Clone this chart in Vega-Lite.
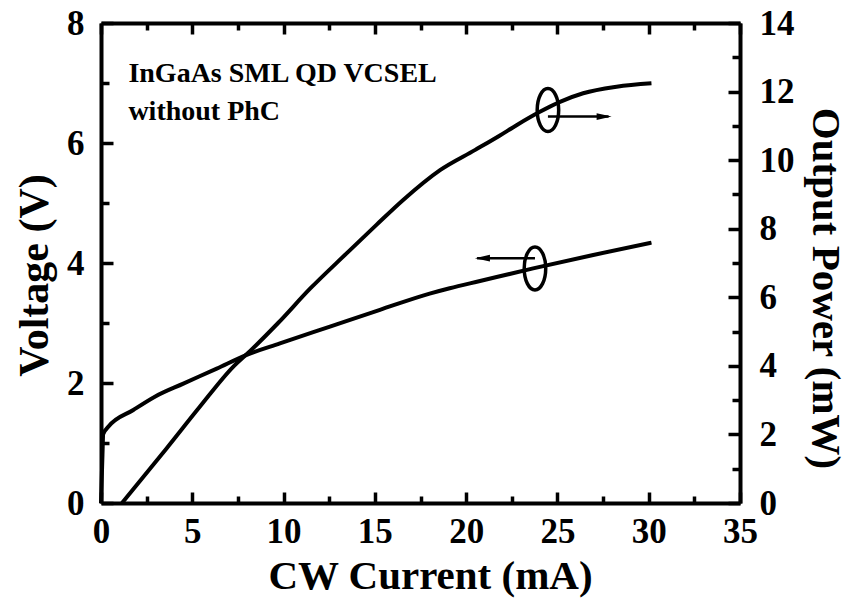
{
  "$schema": "https://vega.github.io/schema/vega-lite/v6.json",
  "width": 639,
  "height": 480,
  "autosize": {"type": "none"},
  "padding": {"left": 101, "top": 23, "right": 110, "bottom": 98},
  "background": "white",
  "config": {
    "view": {"stroke": null},
    "font": "Liberation Serif",
    "axis": {
      "labelFont": "Liberation Serif",
      "labelFontWeight": "bold",
      "labelFontSize": 35,
      "labelColor": "black",
      "titleFont": "Liberation Serif",
      "titleFontWeight": "bold",
      "titleFontSize": 42,
      "titleColor": "black",
      "domainColor": "black",
      "domainWidth": 4,
      "tickColor": "black",
      "tickWidth": 3.5,
      "grid": false,
      "labelFlush": false,
      "labelOverlap": false
    }
  },
  "datasets": {
    "voltage": [
      {"I": 0, "V": 0},
      {"I": 0.08, "V": 0.8},
      {"I": 0.12, "V": 1.15},
      {"I": 0.4, "V": 1.27},
      {"I": 1.77, "V": 1.55},
      {"I": 3.0, "V": 1.78},
      {"I": 4.51, "V": 1.99},
      {"I": 6.34, "V": 2.24},
      {"I": 7.98, "V": 2.47},
      {"I": 9.8, "V": 2.66},
      {"I": 12.54, "V": 2.94},
      {"I": 15.28, "V": 3.22},
      {"I": 18.0, "V": 3.49},
      {"I": 19.1, "V": 3.58},
      {"I": 20.76, "V": 3.7},
      {"I": 23.67, "V": 3.91},
      {"I": 26.9, "V": 4.13},
      {"I": 30.15, "V": 4.34}
    ],
    "power": [
      {"I": 1.15, "P": 0},
      {"I": 3.6, "P": 1.6},
      {"I": 5.4, "P": 2.8},
      {"I": 7.25, "P": 3.98},
      {"I": 8.2, "P": 4.45},
      {"I": 9.7, "P": 5.25},
      {"I": 11.45, "P": 6.25},
      {"I": 13.45, "P": 7.28},
      {"I": 15.1, "P": 8.12},
      {"I": 16.55, "P": 8.84},
      {"I": 18.57, "P": 9.71},
      {"I": 20.5, "P": 10.3},
      {"I": 21.85, "P": 10.72},
      {"I": 22.76, "P": 11.02},
      {"I": 24.04, "P": 11.41},
      {"I": 25.14, "P": 11.7},
      {"I": 26.41, "P": 11.95},
      {"I": 28.24, "P": 12.14},
      {"I": 30.15, "P": 12.24}
    ],
    "vEllipse": [{"I": 23.77, "V": 3.91}],
    "vArrow": [{"I": 20.6, "I2": 23.77, "V": 4.08}],
    "vHead": [{"I": 20.48, "V": 4.08}],
    "pEllipse": [{"I": 24.48, "P": 11.46}],
    "pArrow": [{"I": 24.48, "I2": 27.8, "P": 11.27}],
    "pHead": [{"I": 27.97, "P": 11.27}],
    "notes": [
      {"I": 1.5, "V": 7.02, "label": "InGaAs SML QD VCSEL"},
      {"I": 1.5, "V": 6.38, "label": "without PhC"}
    ]
  },
  "layer": [
    {
      "data": {"name": "voltage"},
      "mark": {"type": "line", "color": "black", "strokeWidth": 4, "interpolate": "monotone"},
      "encoding": {
        "x": {
          "field": "I", "type": "quantitative",
          "scale": {"domain": [0, 35], "nice": false, "zero": false},
          "axis": {
            "orient": "bottom",
            "title": "CW Current (mA)",
            "titleFontSize": 41,
            "titleX": 329,
            "values": [0, 5, 10, 15, 20, 25, 30, 35],
            "tickSize": -11,
            "labelPadding": 22,
            "titlePadding": 7
          }
        },
        "y": {
          "field": "V", "type": "quantitative",
          "scale": {"domain": [0, 8], "nice": false},
          "axis": {
            "orient": "left",
            "title": "Voltage (V)",
            "titleY": 252,
            "values": [0, 2, 4, 6, 8],
            "tickSize": -12,
            "labelPadding": 29,
            "titlePadding": 10
          }
        }
      }
    },
    {
      "data": {"name": "power"},
      "mark": {"type": "line", "color": "black", "strokeWidth": 4, "interpolate": "monotone"},
      "encoding": {
        "x": {
          "field": "I", "type": "quantitative",
          "axis": {
            "orient": "top",
            "title": null,
            "labels": false,
            "values": [0, 5, 10, 15, 20, 25, 30, 35],
            "tickSize": -11
          }
        },
        "y": {
          "field": "P", "type": "quantitative",
          "scale": {"domain": [0, 14], "nice": false},
          "axis": {
            "orient": "right",
            "title": "Output Power (mW)",
            "titleFontSize": 41,
            "titleAngle": 90,
            "titleY": 265,
            "values": [0, 2, 4, 6, 8, 10, 12, 14],
            "tickSize": -12,
            "labelPadding": 31,
            "titlePadding": 9
          }
        }
      }
    },
    {
      "data": {"name": "voltage"},
      "mark": {"type": "point", "opacity": 0},
      "encoding": {
        "x": {
          "field": "I", "type": "quantitative",
          "axis": {"orient": "bottom", "title": null, "labels": false, "domain": false, "values": [2.5, 7.5, 12.5, 17.5, 22.5, 27.5, 32.5], "tickSize": -7}
        },
        "y": {
          "field": "V", "type": "quantitative",
          "scale": {"domain": [0, 8], "nice": false},
          "axis": {"orient": "left", "title": null, "labels": false, "domain": false, "values": [1, 3, 5, 7], "tickSize": -8}
        }
      }
    },
    {
      "data": {"name": "power"},
      "mark": {"type": "point", "opacity": 0},
      "encoding": {
        "x": {
          "field": "I", "type": "quantitative",
          "axis": {"orient": "top", "title": null, "labels": false, "domain": false, "values": [2.5, 7.5, 12.5, 17.5, 22.5, 27.5, 32.5], "tickSize": -7}
        },
        "y": {
          "field": "P", "type": "quantitative",
          "scale": {"domain": [0, 14], "nice": false},
          "axis": {"orient": "right", "title": null, "labels": false, "domain": false, "values": [1, 3, 5, 7, 9, 11, 13], "tickSize": -8}
        }
      }
    },
    {
      "data": {"name": "vEllipse"},
      "mark": {"type": "point", "shape": "M0,-1 A0.5,1 0 1,1 0,1 A0.5,1 0 1,1 0,-1 Z", "size": 1849, "filled": false, "color": "black", "strokeWidth": 3.5, "opacity": 1},
      "encoding": {
        "x": {"field": "I", "type": "quantitative", "axis": null},
        "y": {"field": "V", "type": "quantitative", "scale": {"domain": [0, 8], "nice": false}, "axis": null}
      }
    },
    {
      "data": {"name": "vArrow"},
      "mark": {"type": "rule", "color": "black", "strokeWidth": 2.5},
      "encoding": {
        "x": {"field": "I", "type": "quantitative", "axis": null},
        "x2": {"field": "I2"},
        "y": {"field": "V", "type": "quantitative", "scale": {"domain": [0, 8], "nice": false}, "axis": null}
      }
    },
    {
      "data": {"name": "vHead"},
      "mark": {"type": "point", "shape": "M0,0 L2,-0.45 L2,0.45 Z", "size": 225, "filled": true, "color": "black", "opacity": 1},
      "encoding": {
        "x": {"field": "I", "type": "quantitative", "axis": null},
        "y": {"field": "V", "type": "quantitative", "scale": {"domain": [0, 8], "nice": false}, "axis": null}
      }
    },
    {
      "data": {"name": "notes"},
      "mark": {"type": "text", "align": "left", "baseline": "alphabetic", "font": "Liberation Serif", "fontWeight": "bold", "fontSize": 28, "color": "black"},
      "encoding": {
        "x": {"field": "I", "type": "quantitative", "axis": null},
        "y": {"field": "V", "type": "quantitative", "scale": {"domain": [0, 8], "nice": false}, "axis": null},
        "text": {"field": "label"}
      }
    },
    {
      "data": {"name": "pEllipse"},
      "mark": {"type": "point", "shape": "M0,-1 A0.5,1 0 1,1 0,1 A0.5,1 0 1,1 0,-1 Z", "size": 1849, "filled": false, "color": "black", "strokeWidth": 3.5, "opacity": 1},
      "encoding": {
        "x": {"field": "I", "type": "quantitative", "axis": null},
        "y": {"field": "P", "type": "quantitative", "scale": {"domain": [0, 14], "nice": false}, "axis": null}
      }
    },
    {
      "data": {"name": "pArrow"},
      "mark": {"type": "rule", "color": "black", "strokeWidth": 2.5},
      "encoding": {
        "x": {"field": "I", "type": "quantitative", "axis": null},
        "x2": {"field": "I2"},
        "y": {"field": "P", "type": "quantitative", "scale": {"domain": [0, 14], "nice": false}, "axis": null}
      }
    },
    {
      "data": {"name": "pHead"},
      "mark": {"type": "point", "shape": "M0,0 L-2,-0.45 L-2,0.45 Z", "size": 225, "filled": true, "color": "black", "opacity": 1},
      "encoding": {
        "x": {"field": "I", "type": "quantitative", "axis": null},
        "y": {"field": "P", "type": "quantitative", "scale": {"domain": [0, 14], "nice": false}, "axis": null}
      }
    }
  ],
  "resolve": {"scale": {"y": "independent"}, "axis": {"x": "independent", "y": "independent"}}
}
